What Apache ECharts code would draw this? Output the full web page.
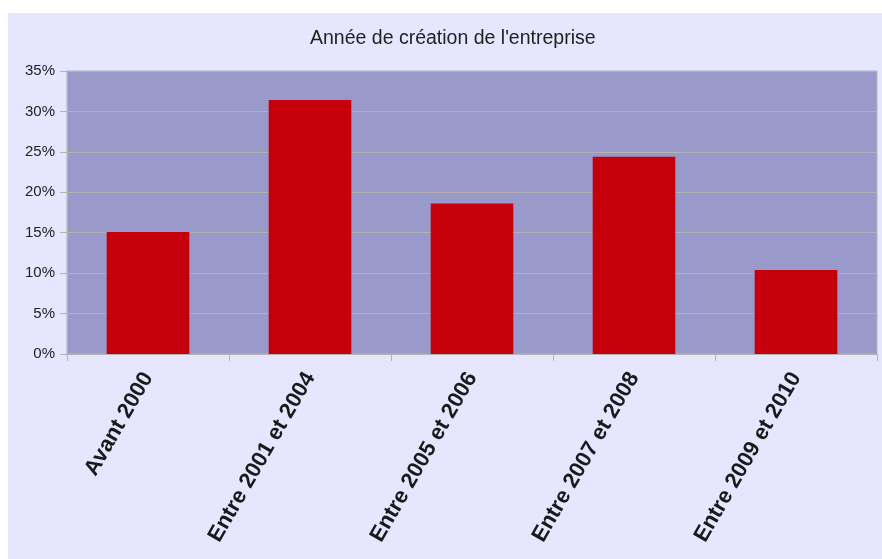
<!DOCTYPE html>
<html>
<head>
<meta charset="utf-8">
<script src="https://cdn.jsdelivr.net/npm/echarts@6/dist/echarts.min.js"></script>
<style>
  html, body { margin: 0; padding: 0; background: #ffffff; }
  #chart { width: 882px; height: 559px; }
</style>
</head>
<body>
<div id="chart"></div>
<script>
// catégories et valeurs (en %)
const categories = ['Avant 2000', 'Entre 2001 et 2004', 'Entre 2005 et 2006', 'Entre 2007 et 2008', 'Entre 2009 et 2010'];
const values = [15.1, 31.4, 18.6, 24.4, 10.4];
const yTicks = [0, 5, 10, 15, 20, 25, 30, 35];

const chart = echarts.init(document.getElementById('chart'), null, { renderer: 'canvas' });

const option = {
  backgroundColor: '#ffffff',
  animation: false,
  graphic: [
    {
      type: 'rect',
      z: -10,
      shape: { x: 8, y: 13, width: 874, height: 546 },
      style: { fill: '#e6e6ff' }
    }
  ],
  title: {
    text: "Année de création de l'entreprise",
    left: 305,
    top: 24,
    textStyle: {
      fontFamily: 'Liberation Sans',
      fontSize: 19.5,
      fontWeight: 'normal',
      color: '#222222'
    }
  },
  grid: {
    left: 67,
    top: 71,
    right: 5,
    bottom: 205,
    show: true,
    backgroundColor: '#9999cc',
    borderColor: '#b3b3b3',
    borderWidth: 1
  },
  xAxis: {
    type: 'category',
    data: categories,
    axisLine: { lineStyle: { color: '#b3b3b3' } },
    axisTick: { show: true, length: 7, lineStyle: { color: '#b3b3b3' } },
    axisLabel: {
      rotate: 60,
      margin: 20,
      fontFamily: 'Liberation Sans',
      fontSize: 22,
      fontWeight: 'bold',
      color: '#1a1a1a'
    }
  },
  yAxis: {
    type: 'value',
    min: yTicks[0],
    max: yTicks[yTicks.length - 1],
    interval: 5,
    axisLine: { show: true, lineStyle: { color: '#b3b3b3' } },
    axisTick: { show: true, length: 7, lineStyle: { color: '#b3b3b3' } },
    splitLine: { lineStyle: { color: '#b3b3b3' } },
    axisLabel: {
      formatter: '{value}%',
      margin: 12,
      fontFamily: 'Liberation Sans',
      fontSize: 15,
      color: '#222222'
    }
  },
  series: [
    {
      type: 'bar',
      data: values,
      barWidth: '51%',
      itemStyle: { color: '#c5000b' }
    }
  ]
};

chart.setOption(option);
</script>
</body>
</html>
